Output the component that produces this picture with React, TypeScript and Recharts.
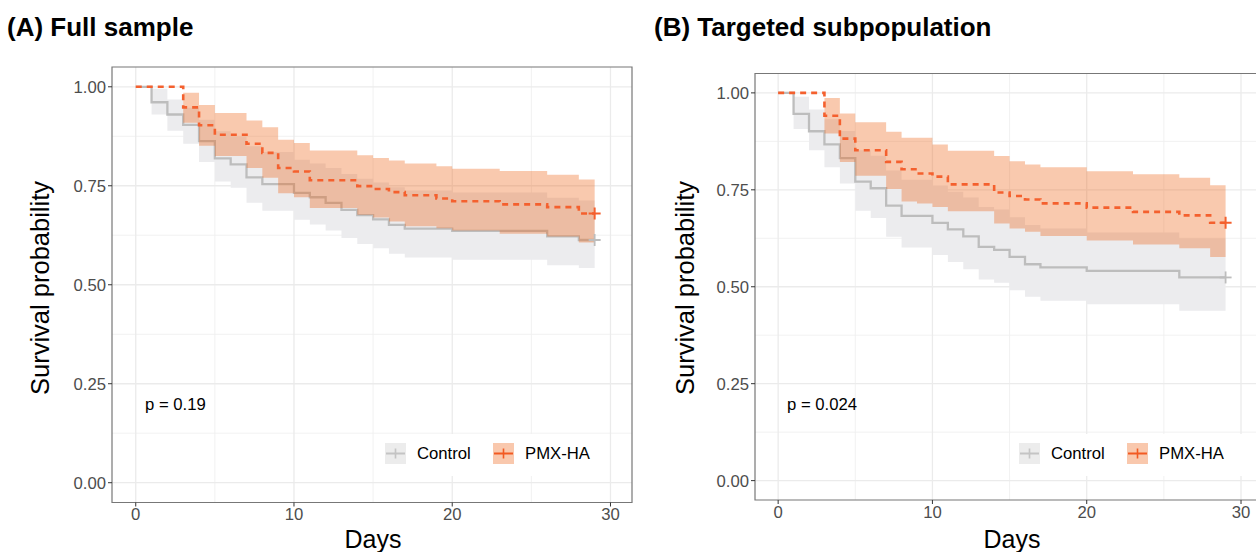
import React from 'react';
import {
  ComposedChart,
  Area,
  Line,
  Scatter,
  XAxis,
  YAxis,
  CartesianGrid,
  ReferenceArea,
} from 'recharts';

const FONT = '"Liberation Sans", Arial, Helvetica, sans-serif';

// ---------- Panel A: Full sample ----------
const daysA_control = [0, 1, 2, 3, 4, 5, 6, 7, 8, 10, 11, 12, 13, 14, 15, 16, 17, 20, 26, 28, 29];
const survA_control = [1, 0.961, 0.93, 0.904, 0.863, 0.819, 0.804, 0.771, 0.754, 0.732, 0.721, 0.707, 0.689, 0.676, 0.665, 0.651, 0.642, 0.636, 0.622, 0.613, 0.613];
const lowerA_control = [1, 0.93, 0.889, 0.856, 0.81, 0.761, 0.745, 0.707, 0.687, 0.664, 0.652, 0.637, 0.618, 0.603, 0.592, 0.578, 0.569, 0.563, 0.549, 0.542, 0.542];
const upperA_control = [1, 0.995, 0.968, 0.947, 0.917, 0.888, 0.875, 0.85, 0.835, 0.816, 0.806, 0.795, 0.78, 0.768, 0.758, 0.746, 0.738, 0.733, 0.72, 0.713, 0.713];

const daysA_pmx = [0, 3, 4, 5, 7, 8, 9, 10, 11, 14, 15, 16, 17, 19, 20, 23, 26, 28, 29];
const survA_pmx = [1, 0.948, 0.903, 0.879, 0.856, 0.833, 0.795, 0.786, 0.764, 0.749, 0.742, 0.734, 0.726, 0.718, 0.711, 0.703, 0.696, 0.68, 0.68];
const lowerA_pmx = [1, 0.909, 0.851, 0.825, 0.795, 0.77, 0.731, 0.721, 0.694, 0.677, 0.67, 0.66, 0.648, 0.643, 0.637, 0.629, 0.622, 0.607, 0.607];
const upperA_pmx = [1, 0.985, 0.954, 0.934, 0.915, 0.898, 0.866, 0.858, 0.839, 0.827, 0.82, 0.814, 0.806, 0.799, 0.793, 0.787, 0.778, 0.766, 0.766];

// ---------- Panel B: Targeted subpopulation ----------
const daysB_control = [0, 1, 2, 3, 4, 5, 6, 7, 8, 10, 11, 12, 13, 14, 15, 16, 17, 20, 26, 29];
const survB_control = [1, 0.946, 0.901, 0.867, 0.832, 0.771, 0.754, 0.709, 0.683, 0.665, 0.648, 0.63, 0.603, 0.595, 0.577, 0.558, 0.55, 0.541, 0.524, 0.524];
const lowerB_control = [1, 0.907, 0.852, 0.808, 0.766, 0.696, 0.677, 0.629, 0.601, 0.582, 0.564, 0.545, 0.519, 0.51, 0.491, 0.474, 0.464, 0.455, 0.438, 0.438];
const upperB_control = [1, 0.99, 0.957, 0.932, 0.902, 0.852, 0.838, 0.8, 0.776, 0.761, 0.745, 0.73, 0.706, 0.699, 0.679, 0.659, 0.65, 0.64, 0.625, 0.625];

const daysB_pmx = [0, 3, 4, 5, 7, 8, 9, 10, 11, 14, 15, 16, 17, 20, 23, 26, 28, 29];
const survB_pmx = [1, 0.941, 0.882, 0.852, 0.822, 0.803, 0.792, 0.784, 0.764, 0.743, 0.734, 0.725, 0.715, 0.704, 0.693, 0.684, 0.665, 0.665];
const lowerB_pmx = [1, 0.895, 0.822, 0.786, 0.752, 0.72, 0.715, 0.706, 0.695, 0.663, 0.65, 0.642, 0.631, 0.619, 0.609, 0.599, 0.577, 0.577];
const upperB_pmx = [1, 0.987, 0.947, 0.924, 0.9, 0.884, 0.884, 0.867, 0.851, 0.837, 0.824, 0.815, 0.808, 0.798, 0.79, 0.781, 0.762, 0.762];

const xTicks = [0, 10, 20, 30];
const xMinor = [5, 15, 25];
const yTicks = [0, 0.25, 0.5, 0.75, 1];
const yMinor = [0.125, 0.375, 0.625, 0.875];
const groupLabels = ['Control', 'PMX-HA'];
const pValueA = 'p = 0.19';
const pValueB = 'p = 0.024';
const titleA = '(A) Full sample';
const titleB = '(B) Targeted subpopulation';
const xTitle = 'Days';
const yTitle = 'Survival probability';

const X_DOMAIN: [number, number] = [-1.5, 31.36];
const Y_DOMAIN: [number, number] = [-0.05, 1.05];

const GREY_LINE = '#BDBDBD';
const GREY_FILL = '#ECECEE';
const ORANGE_LINE = '#F4602E';
const ORANGE_FILL = '#EE6518';

function toRows(days: number[], surv: number[], lower: number[], upper: number[]) {
  return days.map((d, i) => ({ day: d, surv: surv[i], band: [lower[i], upper[i]] }));
}

function lastPoint(days: number[], surv: number[]) {
  return [{ day: days[days.length - 1], surv: surv[surv.length - 1] }];
}

const makePlus = (color: string, sw: number) => (props: any) => {
  const { cx, cy } = props;
  if (cx == null || cy == null) return <g />;
  return (
    <g>
      <line x1={cx - 6} x2={cx + 6} y1={cy} y2={cy} stroke={color} strokeWidth={sw} />
      <line x1={cx} x2={cx} y1={cy - 6} y2={cy + 6} stroke={color} strokeWidth={sw} />
    </g>
  );
};

type PanelProps = {
  control: { days: number[]; surv: number[]; lower: number[]; upper: number[] };
  pmx: { days: number[]; surv: number[]; lower: number[]; upper: number[] };
  margin: { top: number; right: number; bottom: number; left: number };
};

function Panel({ control, pmx, margin }: PanelProps) {
  const cRows = toRows(control.days, control.surv, control.lower, control.upper);
  const pRows = toRows(pmx.days, pmx.surv, pmx.lower, pmx.upper);
  const tickStyle = { fontSize: 16.7, fill: '#4D4D4D', fontFamily: FONT };
  return (
    <ComposedChart width={640} height={552} margin={margin}>
      <CartesianGrid
        horizontalValues={yMinor}
        verticalValues={xMinor}
        stroke="#EFEFEF"
        strokeWidth={0.9}
      />
      <CartesianGrid
        horizontalValues={yTicks}
        verticalValues={xTicks}
        stroke="#EBEBEB"
        strokeWidth={1.3}
      />
      <XAxis
        dataKey="day"
        type="number"
        domain={X_DOMAIN}
        ticks={xTicks}
        interval={0}
        allowDataOverflow
        axisLine={false}
        tickLine={{ stroke: '#333333' }}
        tickSize={4}
        tick={tickStyle}
        height={30}
      />
      <YAxis
        type="number"
        domain={Y_DOMAIN}
        ticks={yTicks}
        interval={0}
        allowDataOverflow
        axisLine={false}
        tickLine={{ stroke: '#333333' }}
        tickSize={4}
        tick={tickStyle}
        tickFormatter={(v: number) => v.toFixed(2)}
        width={60}
      />
      <Area
        data={cRows}
        dataKey="band"
        type="stepAfter"
        fill={GREY_FILL}
        fillOpacity={1}
        stroke="none"
        isAnimationActive={false}
        activeDot={false}
        zIndex={100}
      />
      <Line
        data={cRows}
        dataKey="surv"
        type="stepAfter"
        stroke={GREY_LINE}
        strokeWidth={2.3}
        dot={false}
        activeDot={false}
        isAnimationActive={false}
        zIndex={110}
      />
      <Area
        data={pRows}
        dataKey="band"
        type="stepAfter"
        fill={ORANGE_FILL}
        fillOpacity={0.35}
        stroke="none"
        isAnimationActive={false}
        activeDot={false}
        zIndex={120}
      />
      <Line
        data={pRows}
        dataKey="surv"
        type="stepAfter"
        stroke={ORANGE_LINE}
        strokeWidth={2.6}
        strokeDasharray="6 5"
        dot={false}
        activeDot={false}
        isAnimationActive={false}
        zIndex={130}
      />
      <Scatter
        data={lastPoint(control.days, control.surv)}
        dataKey="surv"
        shape={makePlus(GREY_LINE, 1.8)}
        isAnimationActive={false}
        zIndex={140}
      />
      <Scatter
        data={lastPoint(pmx.days, pmx.surv)}
        dataKey="surv"
        shape={makePlus(ORANGE_LINE, 2)}
        isAnimationActive={false}
        zIndex={150}
      />
      <ReferenceArea
        x1={X_DOMAIN[0]}
        x2={X_DOMAIN[1]}
        y1={Y_DOMAIN[0]}
        y2={Y_DOMAIN[1]}
        fill="none"
        fillOpacity={0}
        stroke="#777777"
        strokeWidth={1.2}
        ifOverflow="visible"
        zIndex={200}
      />
    </ComposedChart>
  );
}

function LegendBox({ left, top }: { left: number; top: number }) {
  const keyBox = (fill: string, line: string) => (
    <svg width={21} height={21} style={{ display: 'block' }}>
      <rect x={0} y={0} width={21} height={21} fill={fill} />
      <line x1={1} x2={20} y1={10.5} y2={10.5} stroke={line} strokeWidth={2} />
      <line x1={10.5} x2={10.5} y1={5.5} y2={15.5} stroke={line} strokeWidth={1.6} />
    </svg>
  );
  return (
    <div
      style={{
        position: 'absolute',
        left,
        top,
        width: 232,
        height: 42,
        background: '#FFFFFF',
      }}
    >
      <div style={{ position: 'absolute', left: 9, top: 9 }}>{keyBox('#ECECEC', '#C4C4C4')}</div>
      <div
        style={{
          position: 'absolute',
          left: 41,
          top: 9,
          height: 22,
          lineHeight: '22px',
          fontSize: 16.7,
          fontFamily: FONT,
          color: '#000',
        }}
      >
        {groupLabels[0]}
      </div>
      <div style={{ position: 'absolute', left: 117, top: 9 }}>{keyBox('#F9C8AD', '#F25A22')}</div>
      <div
        style={{
          position: 'absolute',
          left: 149,
          top: 9,
          height: 22,
          lineHeight: '22px',
          fontSize: 16.7,
          fontFamily: FONT,
          color: '#000',
        }}
      >
        {groupLabels[1]}
      </div>
    </div>
  );
}

const textBase: React.CSSProperties = {
  position: 'absolute',
  fontFamily: FONT,
  color: '#000',
  whiteSpace: 'nowrap',
};

export default function App() {
  return (
    <div
      style={{
        position: 'absolute',
        left: 0,
        top: 0,
        width: 1256,
        height: 552,
        overflow: 'hidden',
        background: '#FFFFFF',
      }}
    >
      <div style={{ position: 'absolute', left: 0, top: 0 }}>
        <Panel
          control={{ days: daysA_control, surv: survA_control, lower: lowerA_control, upper: upperA_control }}
          pmx={{ days: daysA_pmx, surv: survA_pmx, lower: lowerA_pmx, upper: upperA_pmx }}
          margin={{ top: 67, right: 8, bottom: 19.5, left: 52 }}
        />
      </div>
      <div style={{ position: 'absolute', left: 640, top: 0 }}>
        <Panel
          control={{ days: daysB_control, surv: survB_control, lower: lowerB_control, upper: upperB_control }}
          pmx={{ days: daysB_pmx, surv: survB_pmx, lower: lowerB_pmx, upper: upperB_pmx }}
          margin={{ top: 73.5, right: 18, bottom: 22, left: 55 }}
        />
      </div>

      {/* titles */}
      <div style={{ ...textBase, left: 7, top: 12, fontSize: 26, fontWeight: 'bold', lineHeight: '30px' }}>{titleA}</div>
      <div style={{ ...textBase, left: 654, top: 12, fontSize: 26, fontWeight: 'bold', lineHeight: '30px' }}>{titleB}</div>

      {/* axis titles */}
      <div style={{ ...textBase, left: 373, top: 539, fontSize: 25, lineHeight: '30px', transform: 'translate(-50%, -50%)' }}>{xTitle}</div>
      <div style={{ ...textBase, left: 1012, top: 539, fontSize: 25, lineHeight: '30px', transform: 'translate(-50%, -50%)' }}>{xTitle}</div>
      <div style={{ ...textBase, left: 40, top: 288, fontSize: 25.5, lineHeight: '30px', transform: 'translate(-50%, -50%) rotate(-90deg)' }}>{yTitle}</div>
      <div style={{ ...textBase, left: 685, top: 288, fontSize: 25.5, lineHeight: '30px', transform: 'translate(-50%, -50%) rotate(-90deg)' }}>{yTitle}</div>

      {/* p-values */}
      <div style={{ ...textBase, left: 145, top: 394, fontSize: 16.7, lineHeight: '22px' }}>{pValueA}</div>
      <div style={{ ...textBase, left: 787, top: 394, fontSize: 16.7, lineHeight: '22px' }}>{pValueB}</div>

      {/* legends */}
      <LegendBox left={376} top={434} />
      <LegendBox left={1010} top={434} />
    </div>
  );
}
